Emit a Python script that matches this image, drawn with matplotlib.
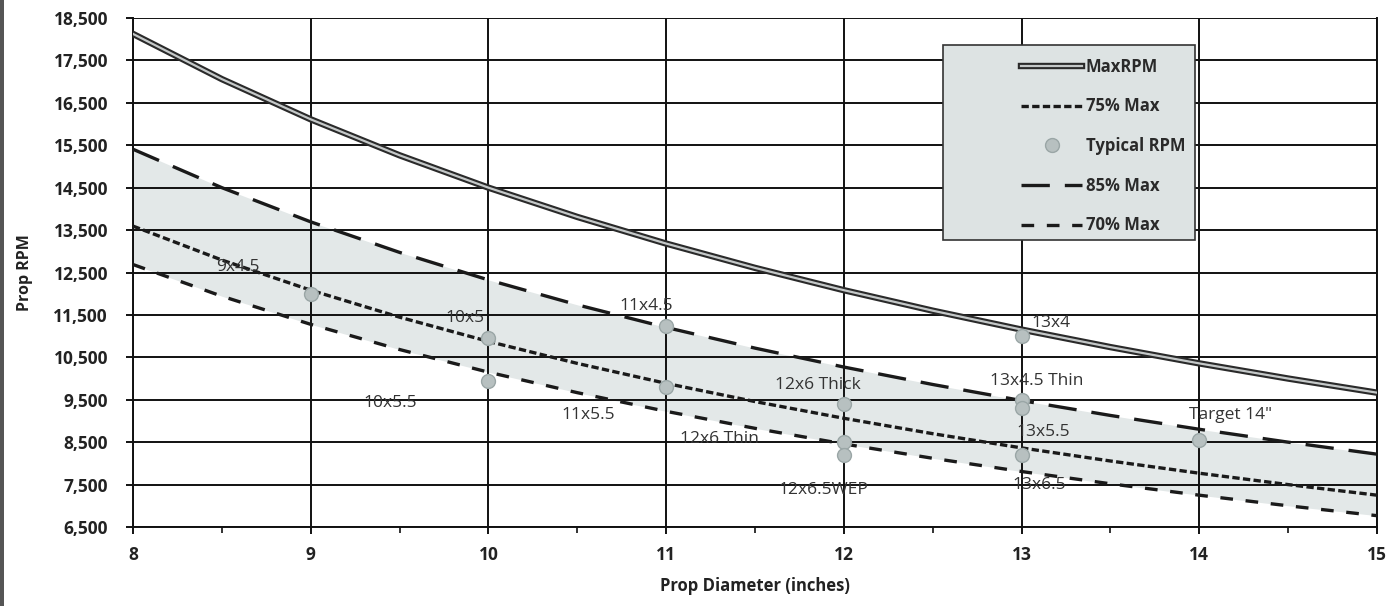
import matplotlib
matplotlib.use("Agg")
import matplotlib.pyplot as plt
import matplotlib.patheffects as pe
from matplotlib.patches import Rectangle
from matplotlib.ticker import FuncFormatter, MultipleLocator, FixedLocator

plt.rcParams['font.family'] = ['Open Sans', 'DejaVu Sans']

# ---- data ----
diam = [8, 8.5, 9, 9.5, 10, 10.5, 11, 11.5, 12, 12.5, 13, 13.5, 14, 14.5, 15]
max_rpm = [18125, 17059, 16111, 15263, 14500, 13810, 13182, 12609, 12083,
           11600, 11154, 10741, 10357, 10000, 9667]
max85 = [15406, 14500, 13694, 12974, 12325, 11738, 11205, 10717, 10271,
         9860, 9481, 9130, 8804, 8500, 8217]
max75 = [13594, 12794, 12083, 11447, 10875, 10357, 9886, 9457, 9063,
         8700, 8365, 8056, 7768, 7500, 7250]
max70 = [12688, 11941, 11278, 10684, 10150, 9667, 9227, 8826, 8458,
         8120, 7808, 7519, 7250, 7000, 6767]

prop_names = ["9x4.5", "10x5", "10x5.5", "11x4.5", "11x5.5", "12x6 Thick",
              "12x6 Thin", "12x6.5WEP", "13x4", "13x4.5 Thin", "13x5.5",
              "13x6.5", "Target 14\""]
prop_diam = [9, 10, 10, 11, 11, 12, 12, 12, 13, 13, 13, 13, 14]
prop_rpm = [12000, 10950, 9950, 11250, 9800, 9400, 8500, 8200, 11000,
            9500, 9300, 8200, 8550]

y_ticks = [6500, 7500, 8500, 9500, 10500, 11500, 12500, 13500, 14500,
           15500, 16500, 17500, 18500]

# label offsets (pixels) relative to each point
label_dx = [-73, -23, -98, -20, -78, -26, -124, -20, 29, 15, 22, 18, 31]
label_dy = [27, 20, -22, 20, -28, 19, 3, -35, 13, 19, -24, -30, 25]

W, H = 1399, 606
fig = plt.figure(figsize=(W / 100, H / 100), dpi=100)
ax = fig.add_axes([133 / W, 1 - 527 / H, (1377 - 133) / W, (527 - 18) / H])

ax.fill_between(diam, max70, max85, color='#e3e8e8', zorder=1, lw=0)

l_max, = ax.plot(diam, max_rpm, color='#c4c8c8', lw=1.6, zorder=3,
                 label='MaxRPM',
                 path_effects=[pe.Stroke(linewidth=4.6, foreground='#2a2a2a'), pe.Normal()])
l75, = ax.plot(diam, max75, color='#1a1a1a', lw=2.4, dashes=(2.2, 1.0),
               zorder=3, label='75% Max')
l85, = ax.plot(diam, max85, color='#1a1a1a', lw=2.4, dashes=(8.5, 4.5),
               zorder=3, label='85% Max')
l70, = ax.plot(diam, max70, color='#1a1a1a', lw=2.4, dashes=(3.8, 3.8),
               zorder=3, label='70% Max')
pts, = ax.plot(prop_diam, prop_rpm, 'o', ms=10, color='#b7c0c0',
               mec='#9aa6a6', mew=1, zorder=4, label='Typical RPM')

for name, x, y, dx, dy in zip(prop_names, prop_diam, prop_rpm, label_dx, label_dy):
    ax.annotate(name, (x, y), xytext=(dx, dy), textcoords='offset pixels',
                ha='center', va='center', fontsize=12.5, color='#333333',
                zorder=5)

ax.set_xlim(8, 15)
ax.set_ylim(6500, 18500)
ax.xaxis.set_major_locator(MultipleLocator(1))
ax.xaxis.set_minor_locator(MultipleLocator(0.5))
ax.yaxis.set_major_locator(FixedLocator(y_ticks))
ax.yaxis.set_major_formatter(FuncFormatter(lambda v, p: f"{int(v):,}"))

ax.grid(True, which='major', color='#111111', lw=1.4)
ax.set_axisbelow('line')
for s in ax.spines.values():
    s.set_color('#111111')
    s.set_linewidth(1.4)
ax.spines['top'].set_visible(False)

ax.tick_params(axis='both', which='major', length=5, width=1.4, color='#111111',
               labelsize=12.5, labelcolor='#222222')
ax.tick_params(axis='x', which='major', pad=9)
ax.tick_params(axis='y', which='major', pad=13)
ax.tick_params(axis='x', which='minor', length=4, width=1.2, color='#111111')
for t in ax.get_xticklabels() + ax.get_yticklabels():
    t.set_fontweight('bold')

ax.set_xlabel('Prop Diameter (inches)', fontsize=12, fontweight='bold',
              color='#222222', labelpad=9)
ax.set_ylabel('Prop RPM', fontsize=11.5, fontweight='bold', color='#222222',
              labelpad=15)

# legend box
ax.add_patch(Rectangle(((943 - 133) / 1244, 1 - (240 - 18) / 509),
                       (1195 - 943) / 1244, (240 - 45) / 509,
                       transform=ax.transAxes, facecolor='#dde3e3',
                       edgecolor='#333333', lw=1.2, zorder=6))
leg = ax.legend(handles=[l_max, l75, pts, l85, l70],
                loc='upper left', bbox_to_anchor=((1004 - 133) / 1244, 1 - (41 - 18) / 509),
                frameon=False, fontsize=12, handlelength=3.7,
                handletextpad=0.2, labelspacing=1.3, borderpad=0.5)
leg.set_zorder(7)
for t in leg.get_texts():
    t.set_fontweight('bold')
    t.set_color('#2a2a2a')

# scanned page edge on the left
fig.add_artist(Rectangle((0, 0), 4 / W, 1, transform=fig.transFigure,
                         facecolor='#555555', edgecolor='none'))

fig.savefig('out.png', dpi=100)
